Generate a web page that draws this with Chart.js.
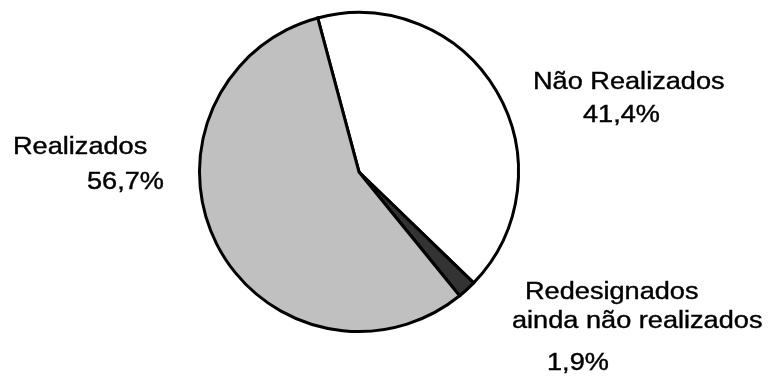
<!DOCTYPE html>
<html>
<head>
<meta charset="utf-8">
<script src="https://cdn.jsdelivr.net/npm/chart.js@4/dist/chart.umd.min.js"></script>
<style>
  html, body { margin: 0; padding: 0; background: #fff; }
  #wrap { width: 779px; height: 380px; position: relative; }
</style>
</head>
<body>
<div id="wrap"><canvas id="pieChart"></canvas></div>
<script>
// Data
const categories = ['Não Realizados', 'Redesignados ainda não realizados', 'Realizados'];
const labelLines = [['Não Realizados'], ['Redesignados', 'ainda não realizados'], ['Realizados']];
const shares = [41.4, 1.9, 56.7];
const sliceColors = ['#ffffff', '#333333', '#c0c0c0'];

const pctText = v => v.toFixed(1).replace('.', ',') + '%';

// where each label block sits (left x of each line, baselines)
const labelSpots = [
    { lines: [[533, 89]], pct: [583, 122] },
    { lines: [[525, 299], [512, 328]], pct: [547, 370] },
    { lines: [[13, 154]], pct: [87, 189] }
];

// the original text is a little wider than plain Arial
const stretchX = 1.18;

const labelPlugin = {
    id: 'sliceLabels',
    afterDraw(chart) {
        const ctx = chart.ctx;
        const put = (txt, x, y) => {
            ctx.save();
            ctx.translate(x, y);
            ctx.scale(stretchX, 1);
            ctx.fillText(txt, 0, 0);
            ctx.strokeText(txt, 0, 0);
            ctx.restore();
        };
        ctx.save();
        ctx.fillStyle = '#000';
        ctx.strokeStyle = '#000';
        ctx.lineWidth = 0.4;
        ctx.font = '23px "Liberation Sans", Arial, sans-serif';
        ctx.textAlign = 'left';
        ctx.textBaseline = 'alphabetic';
        labelSpots.forEach((spot, i) => {
            labelLines[i].forEach((txt, j) => put(txt, spot.lines[j][0], spot.lines[j][1]));
            put(pctText(shares[i]), spot.pct[0], spot.pct[1]);
        });
        ctx.restore();
    }
};

new Chart(document.getElementById('pieChart'), {
    type: 'pie',
    data: {
        labels: categories,
        datasets: [{
            data: shares,
            backgroundColor: sliceColors,
            borderColor: '#000',
            borderWidth: 3,
            borderJoinStyle: 'miter'
        }]
    },
    options: {
        responsive: true,
        maintainAspectRatio: false,
        animation: false,
        rotation: -15,
        layout: { padding: { top: 11, bottom: 47, left: 0, right: 61 } },
        plugins: {
            legend: { display: false },
            tooltip: { enabled: false }
        }
    },
    plugins: [labelPlugin]
});
</script>
</body>
</html>
